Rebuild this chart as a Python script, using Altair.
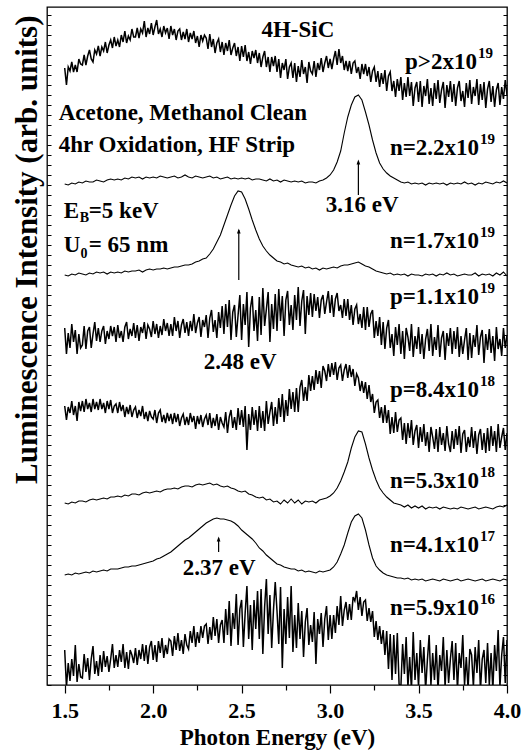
import altair as alt
import pandas as pd

# ---------------- spectra: luminescence intensity (arb. units, offset-stacked) ----------------
# noisy spectra, sampled every 0.01 eV from 1.50 to 4.00 eV
s_p_gt_2e19 = [
617,600,618,614,623,613,620,613,626,621,
620,630,620,629,635,626,623,635,631,639,
629,638,634,643,632,640,645,637,648,639,
645,638,650,643,654,642,649,645,656,648,
648,657,647,656,652,664,648,657,651,662,
650,658,665,651,656,648,659,652,657,646,
659,650,656,645,654,656,645,653,646,656,
643,652,646,654,642,649,638,650,644,650,
647,636,651,638,646,632,642,646,633,643,
630,642,634,645,630,637,642,629,638,624,
639,628,640,624,633,621,634,627,635,622,
632,618,628,634,618,628,613,628,619,629,
613,626,607,622,615,626,606,618,622,607,
622,603,619,608,625,611,618,602,623,614,
611,624,608,622,615,627,613,622,629,617,
626,616,626,634,620,636,622,629,615,624,
614,624,611,622,624,612,618,606,621,611,
621,609,618,603,614,618,603,614,598,612,
601,615,594,609,613,594,604,588,606,594,
608,585,602,588,608,589,603,579,597,603,
583,604,578,599,589,606,581,597,579,602,
586,605,582,595,603,577,600,588,604,583,
601,579,597,604,584,594,578,602,587,605,
581,598,589,606,580,601,585,603,577,596,
604,583,599,578,595,602,580,598,586,605,
590]

s_p_1p1e19 = [
357,331,352,337,361,343,355,331,351,337,
340,359,336,354,358,337,351,363,344,357,
343,354,359,341,354,346,359,349,358,343,
360,347,354,343,358,363,346,356,349,362,
347,360,344,358,352,363,346,360,356,348,
364,351,361,347,359,350,366,354,362,349,
361,349,368,354,364,347,360,366,352,363,
349,364,354,371,352,362,368,348,365,358,
370,347,367,375,353,365,347,373,357,379,
351,381,358,385,345,373,380,348,370,390,
345,381,360,393,338,377,389,354,375,344,
388,350,397,359,376,393,343,381,356,391,
354,396,364,389,349,385,394,360,380,355,
390,365,398,359,384,395,351,389,370,392,
368,391,374,388,367,385,390,371,383,394,
372,390,368,386,392,374,380,367,386,369,
386,365,380,360,376,380,361,371,357,378,
355,378,358,371,375,347,364,349,368,340,
363,336,357,365,337,351,329,358,340,361,
331,354,326,357,348,334,361,328,349,336,
358,331,351,326,346,356,334,361,329,348,
335,360,328,347,354,325,352,339,357,331,
354,336,358,328,349,331,345,357,325,352,
327,350,338,360,330,348,355,322,351,335,
356,332,349,324,358,336,346,329,357,337,
350]

s_p_8p4e18 = [
279,265,278,272,284,270,279,264,283,274,
284,273,286,276,282,273,286,276,283,275,
286,276,282,272,284,276,285,272,279,281,
272,283,274,280,268,278,271,280,268,275,
278,267,275,269,279,266,273,264,274,268,
266,275,262,272,275,263,270,262,272,264,
271,261,272,263,271,259,267,271,260,268,
260,272,263,269,256,269,261,270,258,266,
270,260,272,257,267,259,271,255,268,262,
258,273,252,268,275,257,268,255,277,260,
275,258,279,235,271,255,278,260,275,254,
279,257,274,254,284,261,273,283,259,278,
261,287,268,291,263,285,269,296,276,293,
273,297,273,298,305,284,298,284,310,294,
309,295,315,301,314,297,319,314,304,321,
308,322,310,323,305,317,320,304,315,321,
307,320,308,316,299,311,307,294,304,292,
303,286,300,283,291,272,283,285,267,278,
262,280,262,275,251,268,252,273,253,265,
267,245,262,241,262,247,265,240,254,260,
237,258,243,261,239,253,233,258,248,236,
256,233,258,240,252,234,259,241,233,254,
236,256,240,259,232,251,255,233,248,238,
258,237,254,231,250,256,235,252,232,257,
234,259,239,254,233,261,237,248,257,235,
252]

s_n_5p9e16 = [
35,-2,22,4,26,9,40,3,21,8,
7,31,13,27,5,26,39,11,24,9,
30,13,34,18,29,13,26,41,17,30,
18,35,23,41,17,33,16,35,30,22,
37,20,35,26,41,24,40,21,38,44,
25,40,23,44,32,47,27,40,31,46,
44,29,49,35,52,34,45,31,51,40,
36,54,42,59,38,53,42,59,47,59,
61,41,58,45,68,49,66,42,60,65,
42,76,50,84,39,72,56,91,40,76,
85,38,72,99,46,80,35,85,56,94,
46,96,31,78,106,51,90,37,75,103,
74,41,98,17,76,41,88,47,99,33,
70,37,82,46,74,28,63,77,40,60,
43,73,21,66,51,72,38,66,79,45,
70,46,70,52,79,60,89,59,75,83,
65,81,65,88,84,94,75,88,69,83,
85,64,77,63,74,48,64,45,59,41,
55,30,54,16,51,5,50,11,52,1,
-3,41,11,48,-2,28,-5,53,5,32,
-2,45,12,38,-5,25,50,0,32,5,
40,-5,30,14,48,-2,35,2,26,44,
5,42,-5,32,17,50,0,28,-4,36,
30,-2,38,12,45,-5,26,35,2,42,
0,32,-5,40,14,55,-2,30,48,2,
45]

# smooth spectra, sampled every 0.02 eV from 1.50 to 4.00 eV
s_n_2p2e19 = [
501,500,502,501,503, 502,504,503,503,505, 504,503,505,506,505, 506,505,507,506,508,
507,508,506,508,507, 508,507,509,508,507, 508,509,507,508,510, 508,507,509,508,507,
508,509,507,508,506, 507,508,506,507,506, 507,506,507,505,506, 506,505,504,506,504,
505,503,505,504,503, 504,503,504,502,503, 503,502,504,505,507, 510,515,523,534,552,
568,580,588,590,585, 573,560,545,532,522, 516,512,509,507,505, 503,502,503,501,502,
501,502,500,502,501, 502,501,502,500,502, 501,502,501,503,501, 502,500,502,501,503,
502,501,503,502,504, 502]

s_n_1p7e19 = [
410,409,411,410,412, 411,410,412,411,413, 412,413,411,413,412, 413,412,414,413,414,
414,415,413,415,416, 415,416,416,417,416, 417,418,418,419,420, 420,421,423,424,426,
427,431,436,443,450, 460,470,480,489,494, 493,486,476,465,455, 446,439,434,430,427,
424,423,421,422,420, 419,418,419,417,418, 416,417,415,417,416, 417,418,417,419,420,
420,421,422,423,421, 419,418,416,414,413, 412,411,412,410,411, 410,411,409,411,410,
410,409,411,410,411, 409,411,410,412,410, 411,409,410,411,410, 410,412,409,411,410,
411,409,412,410,413, 409]

s_n_5p3e18 = [
182,181,183,182,184, 184,183,185,186,185, 186,187,186,188,188, 189,188,190,189,191,
191,190,192,193,192, 193,194,193,195,196, 196,197,196,198,199, 199,198,200,201,200,
201,202,200,201,199, 198,199,197,196,194, 193,194,191,190,188, 187,188,185,186,183,
184,181,185,182,186, 182,185,181,184,183, 184,182,185,186,187, 189,192,197,204,213,
223,237,248,254,253, 241,227,215,205,197, 192,188,185,182,181, 180,178,180,177,179,
177,179,176,178,177, 178,176,178,177,176, 177,176,178,177,176, 177,178,176,177,178,
177,176,178,179,178, 180]

s_n_4p1e17 = [
110,111,110,112,111, 112,113,112,114,113, 114,115,114,116,116, 116,117,118,118,119,
119,120,121,122,123, 124,126,127,129,131, 133,136,139,142,145, 147,150,153,156,159,
162,164,166,167,166, 166,165,164,162,159, 155,152,149,146,142, 137,134,130,127,124,
121,120,118,117,116, 116,114,115,113,114, 113,112,114,113,114, 115,118,123,131,140,
152,163,169,171,167, 155,140,127,119,115, 112,110,109,108,107, 107,106,107,105,106,
105,106,104,105,106, 105,104,106,105,104, 105,106,104,105,106, 105,104,105,106,104,
105,106,105,104,106, 105]

noisy = {
    "p>2x10^19": s_p_gt_2e19,
    "p=1.1x10^19": s_p_1p1e19,
    "p=8.4x10^18": s_p_8p4e18,
    "n=5.9x10^16": s_n_5p9e16,
}
smooth = {
    "n=2.2x10^19": s_n_2p2e19,
    "n=1.7x10^19": s_n_1p7e19,
    "n=5.3x10^18": s_n_5p3e18,
    "n=4.1x10^17": s_n_4p1e17,
}

E_MIN, E_MAX = 1.5, 4.0
I_MIN, I_MAX = 0, 678


def energies(n):
    step = (E_MAX - E_MIN) / (n - 1)
    return [round(E_MIN + i * step, 4) for i in range(n)]


def to_frame(group):
    rows = []
    for name, vals in group.items():
        for e, v in zip(energies(len(vals)), vals):
            rows.append({"curve": name, "E": e, "I": v})
    return pd.DataFrame(rows)


noisy_df = to_frame(noisy)
smooth_df = to_frame(smooth)

# ---------------- annotations ----------------
dop_text = ["p>2x10", "n=2.2x10", "n=1.7x10", "p=1.1x10", "p=8.4x10", "n=5.3x10", "n=4.1x10", "n=5.9x10"]
dop_E = [3.830, 3.842, 3.842, 3.842, 3.842, 3.842, 3.842, 3.842]
dop_I = [616, 530, 437, 381, 288, 197, 133, 70]
exp_text = ["19", "19", "19", "19", "18", "18", "17", "16"]
exp_E = [3.836, 3.847, 3.847, 3.847, 3.847, 3.847, 3.847, 3.847]
exp_I = [627, 541, 448, 392, 299, 208, 144, 81]

note_text = ["Acetone, Methanol Clean", "4hr Oxidation, HF Strip", "3.16 eV", "2.48 eV", "2.37 eV",
             "E", "=5 keV", "U", "= 65 nm"]
note_E = [1.466, 1.466, 2.976, 2.286, 2.167, 1.494, 1.636, 1.494, 1.636]
note_I = [565, 533, 473, 316, 110, 467, 467, 433, 433]

sub_text = ["B", "0"]
sub_E = [1.585, 1.590]
sub_I = [463, 427]

title_text = ["4H-SiC"]
title_E = [2.818]
title_I = [648]

arrow_E = [3.16, 2.484, 2.37]
arrow_from = [490, 405, 133]
arrow_to = [521, 455, 147]
arrow_head = [523, 454, 146]

dop_df = pd.DataFrame({"t": dop_text, "E": dop_E, "I": dop_I})
exp_df = pd.DataFrame({"t": exp_text, "E": exp_E, "I": exp_I})
note_df = pd.DataFrame({"t": note_text, "E": note_E, "I": note_I})
sub_df = pd.DataFrame({"t": sub_text, "E": sub_E, "I": sub_I})
title_df = pd.DataFrame({"t": title_text, "E": title_E, "I": title_I})
arrow_df = pd.DataFrame({"E": arrow_E, "I": arrow_from, "I2": arrow_to, "H": arrow_head})

FONT = "Liberation Serif"
xscale = alt.Scale(domain=[1.4, E_MAX], nice=False, zero=False)
yscale = alt.Scale(domain=[I_MIN, I_MAX], nice=False, zero=False)
x_major = [1.5, 2.0, 2.5, 3.0, 3.5, 4.0]
x_minor = [1.75, 2.25, 2.75, 3.25, 3.75]
y_ticks = list(range(0, 678, 10))

x_axis = alt.Axis(
    orient="bottom", values=x_major, format=".1f",
    tickSize=8, tickColor="black", tickWidth=1.2, domain=False, grid=False,
    labelFont=FONT, labelFontWeight="bold", labelFontSize=22, labelColor="black",
    labelPadding=7, labelFlush=False, labelOverlap=False,
    title="Photon Energy (eV)", titleFont=FONT, titleFontWeight="bold", titleFontSize=23,
    titleColor="black", titlePadding=5,
)
x_axis_minor = alt.Axis(
    orient="bottom", values=x_minor, labels=False, title=None,
    tickSize=5, tickColor="black", tickWidth=1.2, domain=False, grid=False,
)
y_axis_left = alt.Axis(
    orient="left", values=y_ticks, labels=False, domain=False, grid=False,
    tickSize=4, offset=-4, tickColor="black", tickWidth=1,
    title="Luminescence Intensity (arb. units)", titleFont=FONT, titleFontWeight="bold",
    titleFontSize=31, titleColor="black",
    titleAngle=270, titleAlign="right", titleBaseline="alphabetic", titleX=-15, titleY=8,
)
y_axis_right = alt.Axis(
    orient="right", values=y_ticks, labels=False, domain=False, grid=False,
    tickSize=4, offset=-4, tickColor="black", tickWidth=1, title=None,
)


def xy(xfield="E:Q", yfield="I:Q", xaxis=x_axis, yaxis=y_axis_left):
    return dict(x=alt.X(xfield, scale=xscale, axis=xaxis), y=alt.Y(yfield, scale=yscale, axis=yaxis))


noisy_lines = alt.Chart(noisy_df).mark_line(color="black", strokeWidth=1.5, clip=True).encode(
    detail="curve:N", **xy()
)
smooth_lines = alt.Chart(smooth_df).mark_line(color="black", strokeWidth=1.1, clip=True).encode(
    detail="curve:N", **xy()
)


def text_layer(df, size, align, xaxis=x_axis, yaxis=y_axis_left):
    return alt.Chart(df).mark_text(
        font=FONT, fontWeight="bold", fontSize=size, align=align, baseline="alphabetic", color="black"
    ).encode(text="t:N", **xy(xaxis=xaxis, yaxis=yaxis))


dop_layer = text_layer(dop_df, 23, "right")
note_layer = text_layer(note_df, 23, "left")
sub_layer = text_layer(sub_df, 14, "left")
title_layer = text_layer(title_df, 23, "center")
exp_layer = text_layer(exp_df, 15, "left", xaxis=x_axis_minor, yaxis=y_axis_right)

arrow_lines = alt.Chart(arrow_df).mark_rule(color="black", strokeWidth=1.2).encode(
    y2="I2:Q", **xy()
)
arrow_heads = alt.Chart(arrow_df).mark_point(
    shape="M0,-0.5L0.35,0.5L-0.35,0.5Z", filled=True, color="black", opacity=1, size=110, strokeWidth=0
).encode(**xy(yfield="H:Q"))

inner = alt.layer(
    noisy_lines, smooth_lines, arrow_lines, arrow_heads,
    dop_layer, note_layer, sub_layer, title_layer
)

chart = alt.layer(inner, exp_layer).resolve_axis(
    x="independent", y="independent"
).properties(
    width=460, height=678,
    autosize=alt.AutoSizeParams(type="none"),
    padding={"left": 47, "top": 7, "right": 20, "bottom": 69},
    background="white",
).configure_view(
    stroke="black", strokeWidth=1.3
)

chart.save("out.html", embed_options={"renderer": "svg", "actions": False})
